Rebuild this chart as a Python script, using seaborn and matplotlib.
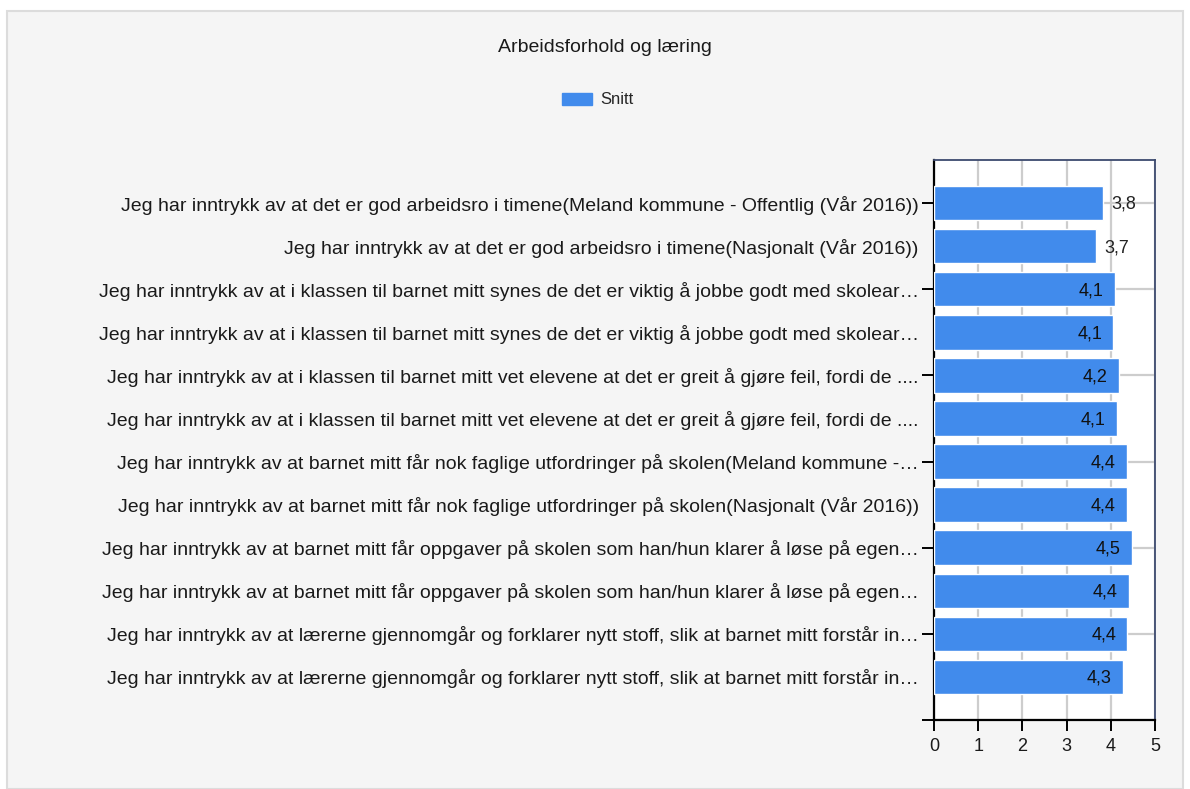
import numpy as np
import pandas as pd
import matplotlib
matplotlib.use("Agg")
import matplotlib.pyplot as plt
import seaborn as sns
from matplotlib.patches import Rectangle, Patch

# data
questions = [
    "Jeg har inntrykk av at det er god arbeidsro i timene(Meland kommune - Offentlig (Vår 2016))",
    "Jeg har inntrykk av at det er god arbeidsro i timene(Nasjonalt (Vår 2016))",
    "Jeg har inntrykk av at i klassen til barnet mitt synes de det er viktig å jobbe godt med skolear…",
    "Jeg har inntrykk av at i klassen til barnet mitt synes de det er viktig å jobbe godt med skolear…",
    "Jeg har inntrykk av at i klassen til barnet mitt vet elevene at det er greit å gjøre feil, fordi de ....",
    "Jeg har inntrykk av at i klassen til barnet mitt vet elevene at det er greit å gjøre feil, fordi de ....",
    "Jeg har inntrykk av at barnet mitt får nok faglige utfordringer på skolen(Meland kommune -…",
    "Jeg har inntrykk av at barnet mitt får nok faglige utfordringer på skolen(Nasjonalt (Vår 2016))",
    "Jeg har inntrykk av at barnet mitt får oppgaver på skolen som han/hun klarer å løse på egen…",
    "Jeg har inntrykk av at barnet mitt får oppgaver på skolen som han/hun klarer å løse på egen…",
    "Jeg har inntrykk av at lærerne gjennomgår og forklarer nytt stoff, slik at barnet mitt forstår in…",
    "Jeg har inntrykk av at lærerne gjennomgår og forklarer nytt stoff, slik at barnet mitt forstår in…",
]
snitt = [3.82, 3.66, 4.09, 4.06, 4.18, 4.14, 4.36, 4.36, 4.48, 4.41, 4.37, 4.27]
x_ticks = [0, 1, 2, 3, 4, 5]

BAR = "#418bec"
FONT = ["Liberation Sans", "DejaVu Sans"]

sns.set_style("white")
plt.rcParams["font.family"] = FONT

df = pd.DataFrame({"id": [f"q{i}" for i in range(len(snitt))], "Snitt": snitt})

fig = plt.figure(figsize=(11.9, 7.89), dpi=100)
fig.patch.set_facecolor("white")
fig.patches.append(Rectangle((7 / 1190, 0), 1176 / 1190, 1 - 11 / 789,
                             transform=fig.transFigure, facecolor="#f5f5f5",
                             edgecolor="#dcdcdc", linewidth=1.5, zorder=-1))

ax = fig.add_axes([934 / 1190, 1 - 720 / 789, 221 / 1190, 560 / 789])
ax.set_zorder(2)
ax.set_facecolor("white")
sns.barplot(data=df, x="Snitt", y="id", orient="h", color=BAR, width=0.8,
            saturation=1, ax=ax, zorder=3)

n = len(snitt)
ax.set_xlim(0, 5)
ax.set_ylim(n, -1)
ax.set_xticks(x_ticks)
ax.set_xticklabels([str(t) for t in x_ticks], fontsize=13, color="#1a1a1a")
ax.set_yticks(range(n))
ax.set_yticklabels(questions, fontsize=14, color="#1a1a1a")
# tick marks and gridlines only on every second row
ax.yaxis.remove_overlapping_locs = False
ax.set_yticks(range(0, n + 1, 2), minor=True)
ax.tick_params(axis="y", which="major", left=False, length=0, pad=11)
ax.tick_params(axis="y", which="minor", left=True, length=9, width=1.4,
               color="black", direction="out")
ax.tick_params(axis="x", which="major", bottom=True, length=8, width=1.4,
               color="black", direction="out", pad=5)
ax.set_xlabel("")
ax.set_ylabel("")

ax.set_axisbelow(True)
ax.grid(axis="x", which="major", color="#cdcdcd", linewidth=1.6, zorder=0)
ax.grid(axis="y", which="minor", color="#cdcdcd", linewidth=1.6, zorder=0)
ax.grid(axis="y", which="major", visible=False)

for side in ["left", "bottom"]:
    ax.spines[side].set_color("black")
    ax.spines[side].set_linewidth(1.6)
for side in ["top", "right"]:
    ax.spines[side].set_color("#3c4a6e")
    ax.spines[side].set_linewidth(1.3)

for i, v in enumerate(snitt):
    txt = f"{v:.1f}".replace(".", ",")
    if v < 4:
        ax.annotate(txt, (v, i), xytext=(6, -1), textcoords="offset points",
                    ha="left", va="center", fontsize=13, color="#222222", zorder=5)
    else:
        ax.annotate(txt, (v, i), xytext=(-8, -1), textcoords="offset points",
                    ha="right", va="center", fontsize=13, color="#111111", zorder=5)

fig.text(605 / 1190, 1 - 47 / 789, "Arbeidsforhold og læring", ha="center", va="center",
         fontsize=14, color="#1a1a1a")
fig.legend(handles=[Patch(facecolor=BAR, edgecolor=BAR, label="Snitt")],
           loc="center", bbox_to_anchor=(598 / 1190, 1 - 100 / 789), frameon=False,
           fontsize=12, handlelength=1.8, handleheight=0.75, handletextpad=0.5)

fig.savefig("out.png", dpi=100, facecolor=fig.get_facecolor())
